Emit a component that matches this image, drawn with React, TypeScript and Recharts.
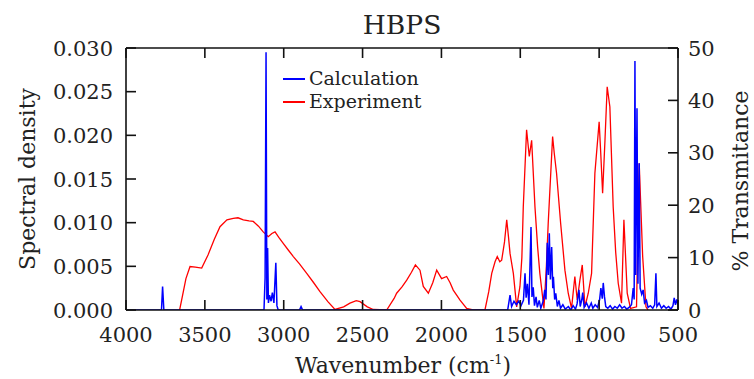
import { LineChart, Line, XAxis, YAxis } from "recharts"

// wavenumber (cm-1), spectral density
const calculation: [number, number][] = [
  [4000, 0], [3775, 0], [3768, 0.0027], [3760, 0],
  [3125, 0], [3118, 0.0037], [3112, 0.0295], [3107, 0.0012], [3102, 0.0071], [3097, 0.0008],
  [3090, 0.0017], [3080, 0.001], [3072, 0.002], [3062, 0.0008], [3050, 0.0054], [3043, 0.0005], [3035, 0],
  [2900, 0], [2890, 0.0004], [2880, 0],
  [1580, 0], [1565, 0.0017], [1555, 0.0004], [1540, 0.001], [1525, 0.0006], [1510, 0.001], [1495, 0.0005],
  [1480, 0.0011], [1470, 0.0042], [1463, 0.0014], [1455, 0.003], [1445, 0.0006], [1432, 0.0095], [1426, 0.0015],
  [1418, 0.0026], [1410, 0.0005], [1400, 0.0015], [1392, 0.0003], [1380, 0.0011], [1370, 0.0002], [1355, 0.001],
  [1345, 0.0023], [1337, 0.0012], [1329, 0.0077], [1322, 0.004], [1316, 0.0088], [1309, 0.0035], [1301, 0.0072],
  [1294, 0.0025], [1290, 0.0038], [1282, 0.0012], [1275, 0.0019], [1265, 0.0004], [1255, 0.0011], [1245, 0.0002],
  [1230, 0.0006], [1215, 0.0001], [1195, 0.0004], [1180, 0], [1165, 0.0005], [1150, 0.0001], [1140, 0.0007],
  [1128, 0.0023], [1120, 0.0004], [1110, 0.0012], [1104, 0.002], [1095, 0.0003], [1080, 0.0008], [1065, 0.0002],
  [1050, 0.0008], [1040, 0.0002], [1025, 0.0006], [1010, 0.0003], [997, 0.0012], [989, 0.0025], [980, 0.0013],
  [974, 0.0031], [966, 0.0015], [958, 0.0004], [945, 0.0002], [930, 0.0005], [915, 0.0001], [900, 0.0004],
  [885, 0.0002], [870, 0.0006], [855, 0.0002], [840, 0.0004], [825, 0.0001], [810, 0.0003], [795, 0.0006],
  [784, 0.0025], [778, 0.0012], [773, 0.0285], [768, 0.004], [760, 0.0231], [754, 0.003], [746, 0.0168],
  [740, 0.0025], [730, 0.0018], [721, 0.0023], [712, 0.0008], [700, 0.0011], [690, 0.0003], [675, 0.0005],
  [660, 0.0002], [648, 0.0006], [640, 0.0042], [634, 0.0004], [620, 0.0008], [605, 0.0002], [590, 0.0005],
  [575, 0.0002], [560, 0.0004], [545, 0.0001], [532, 0.0005], [524, 0.0014], [516, 0.0006], [508, 0.0012],
  [500, 0.0006],
]

// wavenumber (cm-1), % transmittance
const experiment: [number, number][] = [
  [3660, 0], [3640, 3], [3620, 6], [3594, 8.3], [3560, 8.2], [3520, 8.0], [3480, 10.5], [3440, 13.5],
  [3404, 15.9], [3360, 17.2], [3320, 17.5], [3290, 17.6], [3256, 17.2], [3220, 17.0], [3193, 16.9], [3160, 16],
  [3130, 14.9], [3098, 14.0], [3075, 14.6], [3055, 14.9], [3030, 13.8], [3003, 12.7], [2970, 11.4], [2939, 10.2],
  [2900, 8.8], [2854, 7.0], [2810, 5.2], [2770, 3.5], [2720, 1.6], [2675, 0.1], [2620, 0.6], [2580, 1.3],
  [2540, 1.8], [2516, 1.6], [2470, 0.6], [2432, 0.1], [2347, 0], [2300, 2.2], [2284, 3.2], [2250, 4.4],
  [2220, 5.7], [2190, 7.2], [2165, 8.6], [2136, 7.6], [2115, 4.5], [2083, 3.2], [2055, 5.2], [2030, 7.6],
  [1999, 6.0], [1967, 6.4], [1945, 5.2], [1925, 3.8], [1882, 1.9], [1840, 0.3], [1800, 0], [1724, 0],
  [1700, 3.5], [1681, 7.0], [1660, 9.2], [1646, 10.2], [1630, 9.2], [1618, 9.5], [1600, 13], [1586, 17.2],
  [1575, 14], [1565, 10.8], [1544, 7.0], [1523, 0.6], [1502, 4.5], [1490, 10], [1481, 19.7], [1460, 34.4],
  [1443, 29.3], [1428, 32.4], [1407, 19.7], [1390, 12], [1376, 7.0], [1350, 0.3], [1335, 8], [1323, 16.5],
  [1295, 33.1], [1285, 30], [1270, 26.1], [1244, 16.5], [1217, 7.6], [1196, 3.2], [1175, 0.3], [1154, 6.4],
  [1139, 1.9], [1122, 5.7], [1107, 8.6], [1090, 0.6], [1069, 3.2], [1048, 7.0], [1027, 26.1], [1000, 35.9],
  [990, 30], [978, 22.3], [963, 32.4], [949, 42.6], [932, 38.8], [911, 19.7], [895, 11], [879, 5.1],
  [858, 1.3], [843, 17.2], [822, 3.2], [801, 0.3], [763, 0.6], [746, 28.0], [724, 10.2], [703, 0.6], [690, 0],
]

const xTicks = [4000, 3500, 3000, 2500, 2000, 1500, 1000, 500]
const densityTicks = [0, 0.005, 0.01, 0.015, 0.02, 0.025, 0.03]
const transTicks = [0, 10, 20, 30, 40, 50]
const seriesNames = ["Calculation", "Experiment"]
const seriesColors = ["#0000ff", "#ff0000"]

const calcData = calculation.map(([wn, v]) => ({ wn, v }))
const expData = experiment.map(([wn, t]) => ({ wn, t }))

// plot box
const W = 754
const H = 379
const LEFT = 126
const RIGHT = 678
const TOP = 48
const BOTTOM = 310
const TICK = 10

const font = "'DejaVu Serif', serif"
const ink = "#222"
const tickFont = 21
const labelFont = 22
const axisLine = { stroke: "#111", strokeWidth: 1.6 }
const tickStroke = "#111"
const tickWidth = 1.6

function BottomTick({ x, y, payload }: any) {
  return (
    <g>
      <line x1={x} x2={x} y1={BOTTOM} y2={BOTTOM - TICK} stroke={tickStroke} strokeWidth={tickWidth} />
      <text x={x} y={y} dy="0.71em" textAnchor="middle" fill={ink} fontSize={tickFont} fontFamily={font}>
        {payload.value}
      </text>
    </g>
  )
}

function TopTick({ x }: any) {
  return <line x1={x} x2={x} y1={TOP} y2={TOP + TICK} stroke={tickStroke} strokeWidth={tickWidth} />
}

function LeftTick({ x, y, payload }: any) {
  return (
    <g>
      <line x1={LEFT} x2={LEFT + TICK} y1={y} y2={y} stroke={tickStroke} strokeWidth={tickWidth} />
      <text x={x} y={y} dy="0.36em" textAnchor="end" fill={ink} fontSize={tickFont} fontFamily={font}>
        {Number(payload.value).toFixed(3)}
      </text>
    </g>
  )
}

function RightTick({ x, y, payload }: any) {
  return (
    <g>
      <line x1={RIGHT} x2={RIGHT - TICK} y1={y} y2={y} stroke={tickStroke} strokeWidth={tickWidth} />
      <text x={x} y={y} dy="0.36em" textAnchor="start" fill={ink} fontSize={tickFont} fontFamily={font}>
        {payload.value}
      </text>
    </g>
  )
}

function LegendBox() {
  return (
    <div
      style={{
        position: "absolute", left: 283, top: 67, fontFamily: font, fontSize: 19,
        color: ink, lineHeight: "23px",
      }}
    >
      {seriesNames.map((name, i) => (
        <div key={name} style={{ display: "flex", alignItems: "center" }}>
          <span style={{ display: "inline-block", width: 22, height: 2, background: seriesColors[i], marginRight: 4 }} />
          {name}
        </div>
      ))}
    </div>
  )
}

const rotated = {
  position: "absolute" as const,
  transform: "translate(-50%, -50%) rotate(-90deg)",
  whiteSpace: "nowrap" as const,
  fontFamily: font,
  fontSize: labelFont,
  color: ink,
}

export default function App() {
  return (
    <div style={{ position: "fixed", left: 0, top: 0, width: W, height: H, background: "#fff" }}>
      <LineChart width={W} height={H} margin={{ top: TOP - 1, right: 0, bottom: 0, left: 0 }}>
        <XAxis
          xAxisId="bottom"
          dataKey="wn"
          type="number"
          domain={[500, 4000]}
          reversed
          ticks={xTicks}
          height={H - BOTTOM}
          tickSize={0}
          tickMargin={17}
          tick={<BottomTick />}
          tickLine={false}
          axisLine={axisLine}
          allowDataOverflow
        />
        <XAxis
          xAxisId="top"
          orientation="top"
          dataKey="wn"
          type="number"
          domain={[500, 4000]}
          reversed
          ticks={xTicks}
          height={1}
          tickSize={0}
          tick={<TopTick />}
          tickLine={false}
          axisLine={axisLine}
          allowDataOverflow
        />
        <YAxis
          yAxisId="left"
          type="number"
          domain={[0, 0.03]}
          ticks={densityTicks}
          width={LEFT}
          tickSize={0}
          tickMargin={13}
          tick={<LeftTick />}
          tickLine={false}
          axisLine={axisLine}
          allowDataOverflow
        />
        <YAxis
          yAxisId="right"
          orientation="right"
          type="number"
          domain={[0, 50]}
          ticks={transTicks}
          width={W - RIGHT}
          tickSize={0}
          tickMargin={10}
          tick={<RightTick />}
          tickLine={false}
          axisLine={axisLine}
          allowDataOverflow
        />
        <Line
          xAxisId="bottom"
          yAxisId="right"
          data={expData}
          dataKey="t"
          name={seriesNames[1]}
          type="linear"
          stroke={seriesColors[1]}
          strokeWidth={1.3}
          dot={false}
          isAnimationActive={false}
        />
        <Line
          xAxisId="bottom"
          yAxisId="left"
          data={calcData}
          dataKey="v"
          name={seriesNames[0]}
          type="linear"
          stroke={seriesColors[0]}
          strokeWidth={1.5}
          dot={false}
          isAnimationActive={false}
        />
      </LineChart>
      <LegendBox />
      <div
        style={{
          position: "absolute", left: (LEFT + RIGHT) / 2, top: 24, transform: "translate(-50%, -50%)",
          fontFamily: font, fontSize: 26.5, color: ink, whiteSpace: "nowrap",
        }}
      >
        HBPS
      </div>
      <div style={{ ...rotated, left: 27, top: 179 }}>Spectral density</div>
      <div style={{ ...rotated, left: 740, top: 181 }}>% Transmitance</div>
      <div
        style={{
          position: "absolute", left: 403, top: 365, transform: "translate(-50%, -50%)",
          whiteSpace: "nowrap", fontFamily: font, fontSize: labelFont, color: ink,
        }}
      >
        Wavenumber (cm<sup style={{ fontSize: 13 }}>-1</sup>)
      </div>
    </div>
  )
}
